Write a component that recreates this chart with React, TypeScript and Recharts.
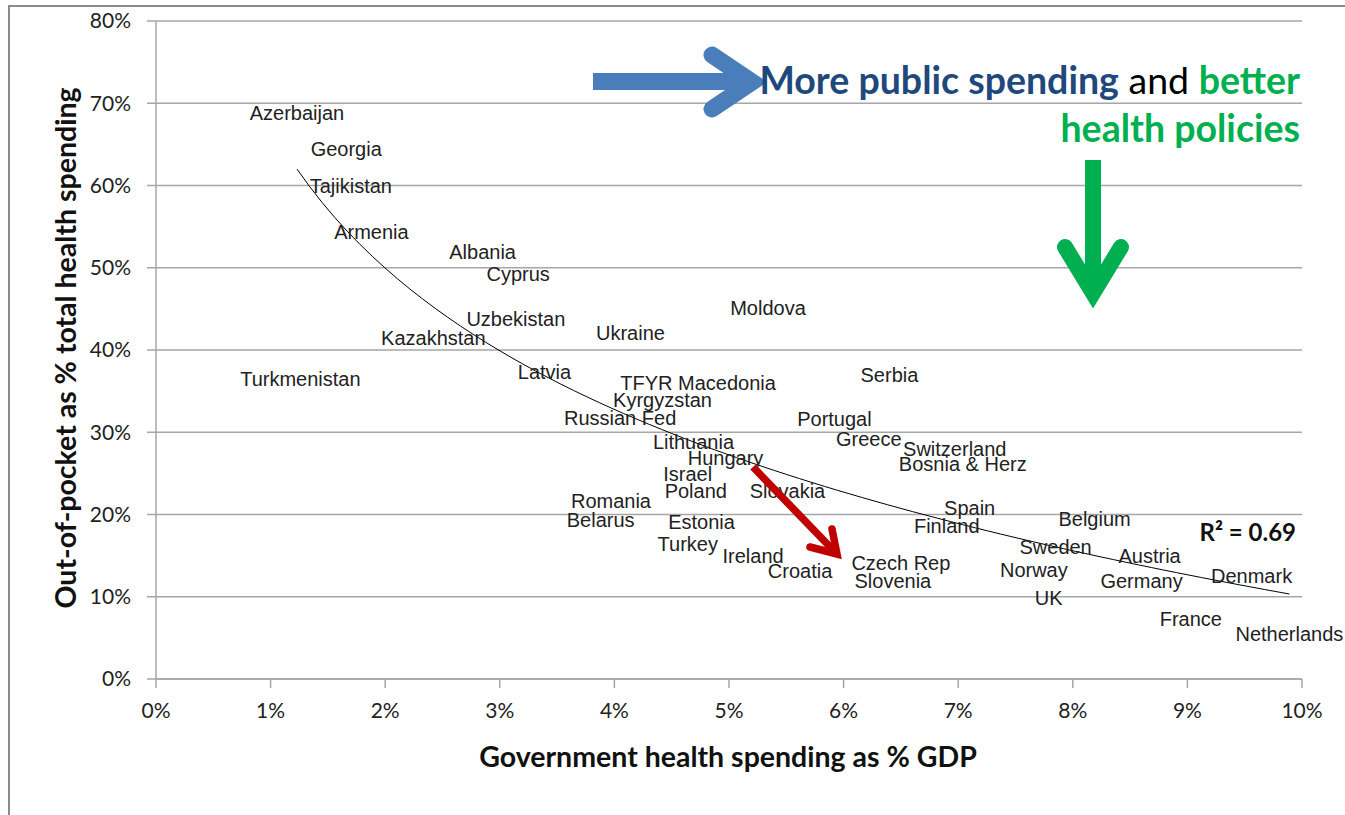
import React from 'react';
import { ComposedChart, Scatter, XAxis, YAxis, CartesianGrid } from 'recharts';

// Out-of-pocket share vs government health spending, European region
const countries = [
  'Azerbaijan', 'Georgia', 'Tajikistan', 'Armenia', 'Albania', 'Cyprus', 'Uzbekistan', 'Kazakhstan',
  'Ukraine', 'Moldova', 'Turkmenistan', 'Latvia', 'TFYR Macedonia', 'Serbia', 'Kyrgyzstan', 'Russian Fed',
  'Portugal', 'Greece', 'Lithuania', 'Switzerland', 'Hungary', 'Bosnia & Herz', 'Israel', 'Poland',
  'Slovakia', 'Romania', 'Belarus', 'Estonia', 'Spain', 'Finland', 'Belgium', 'Turkey',
  'Ireland', 'Croatia', 'Czech Rep', 'Slovenia', 'Sweden', 'Austria', 'Norway', 'Germany',
  'Denmark', 'UK', 'France', 'Netherlands',
];
const govSpending = [
  1.23, 1.66, 1.70, 1.88, 2.85, 3.16, 3.14, 2.42,
  4.14, 5.34, 1.26, 3.39, 4.73, 6.40, 4.42, 4.05,
  5.92, 6.22, 4.69, 6.97, 4.97, 7.04, 4.64, 4.71,
  5.51, 3.97, 3.88, 4.76, 7.10, 6.90, 8.19, 4.64,
  5.21, 5.62, 6.50, 6.43, 7.85, 8.67, 7.66, 8.60,
  9.56, 7.79, 9.03, 9.89,
];
const outOfPocket = [
  68.8, 64.4, 60.0, 54.4, 51.9, 49.3, 43.8, 41.4,
  42.1, 45.1, 36.5, 37.3, 36.0, 36.9, 33.9, 31.7,
  31.6, 29.2, 28.8, 28.0, 26.9, 26.1, 24.9, 22.8,
  22.8, 21.7, 19.3, 19.1, 20.8, 18.6, 19.5, 16.4,
  14.9, 13.1, 14.1, 11.9, 16.1, 15.0, 13.2, 11.9,
  12.5, 9.8, 7.3, 5.5,
];
const xTicks = [0, 1, 2, 3, 4, 5, 6, 7, 8, 9, 10];
const yTicks = [0, 10, 20, 30, 40, 50, 60, 70, 80];
const r2Label = 'R² = 0.69';

const points = countries.map((name, i) => ({ name, x: govSpending[i], y: outOfPocket[i] }));

// logarithmic trendline, least squares on ln(x) like Excel does
const lnX = govSpending.map((v) => Math.log(v));
const n = lnX.length;
const mx = lnX.reduce((a, b) => a + b, 0) / n;
const my = outOfPocket.reduce((a, b) => a + b, 0) / n;
let sxy = 0;
let sxx = 0;
lnX.forEach((lx, i) => {
  sxy += (lx - mx) * (outOfPocket[i] - my);
  sxx += (lx - mx) * (lx - mx);
});
const slope = sxy / sxx;
const intercept = my - slope * mx;
const xMin = Math.min(...govSpending);
const xMax = Math.max(...govSpending);
const trend = Array.from({ length: 80 }, (_, i) => {
  const x = xMin + ((xMax - xMin) * i) / 79;
  return { x, y: intercept + slope * Math.log(x) };
});

const labelFont = "'Liberation Sans', Arial, sans-serif";
const tickFont = "Lato, 'Open Sans', sans-serif";

const CountryLabel = (props: any) => {
  const { cx, cy, payload } = props;
  return (
    <text x={cx} y={cy} textAnchor="middle" dominantBaseline="central" fontSize={20} fontFamily={labelFont} fill="#222">
      {payload.name}
    </text>
  );
};

const App = () => (
  <div style={{ position: 'absolute', left: 0, top: 0, width: 1345, height: 815, background: '#fff', overflow: 'hidden' }}>
    <div style={{ position: 'absolute', left: 8, top: 5, width: 1400, height: 900, borderTop: '2px solid #8a8a8a', borderLeft: '2px solid #8a8a8a' }} />
    <div style={{ position: 'absolute', left: 0, top: 0 }}>
      <ComposedChart width={1345} height={815} margin={{ top: 21, right: 43, bottom: 76, left: 96 }} style={{ overflow: 'visible' }}>
        <CartesianGrid vertical={false} stroke="#a6a6a6" strokeWidth={1.5} />
        <XAxis
          type="number"
          dataKey="x"
          domain={[0, 10]}
          ticks={xTicks}
          interval={0}
          height={60}
          tickFormatter={(v) => `${v}%`}
          tick={{ fontSize: 21, fontFamily: tickFont, fill: '#222' }}
          tickSize={9}
          tickMargin={15}
          stroke="#a6a6a6"
          strokeWidth={1.5}
        />
        <YAxis
          type="number"
          dataKey="y"
          domain={[0, 80]}
          ticks={yTicks}
          interval={0}
          width={60}
          tickFormatter={(v) => `${v}%`}
          tick={{ fontSize: 21, fontFamily: tickFont, fill: '#222' }}
          tickSize={9}
          tickMargin={16}
          stroke="#a6a6a6"
          strokeWidth={1.5}
        />
        <Scatter data={trend} line={{ stroke: '#000', strokeWidth: 1 }} shape={() => null} isAnimationActive={false} />
        <Scatter data={points} shape={CountryLabel} isAnimationActive={false} />
      </ComposedChart>
    </div>
    <svg width={1345} height={815} style={{ position: 'absolute', left: 0, top: 0, pointerEvents: 'none' }}>
      <text
        transform="translate(65,348) rotate(-90)"
        textAnchor="middle"
        dominantBaseline="central"
        fontFamily={tickFont}
        fontWeight="bold"
        fontSize={28.5}
        fill="#111"
      >
        Out-of-pocket as % total health spending
      </text>
      <text x={728} y={756} textAnchor="middle" dominantBaseline="central" fontFamily={tickFont} fontWeight="bold" fontSize={28.5} fill="#111">
        Government health spending as % GDP
      </text>
      <text x={1296} y={541} textAnchor="end" fontFamily={tickFont} fontWeight="bold" fontSize={24} fill="#111">
        {r2Label}
      </text>

      {/* blue arrow */}
      <rect x={593} y={73} width={155} height={17} fill="#4a7ebb" />
      <polyline points="712,55 752,82 712,109" fill="none" stroke="#4a7ebb" strokeWidth={17} strokeLinecap="round" strokeLinejoin="miter" />

      {/* green arrow */}
      <rect x={1085} y={160} width={16} height={135} fill="#00b050" />
      <polyline points="1065,247 1093,293 1121,247" fill="none" stroke="#00b050" strokeWidth={16} strokeLinecap="round" strokeLinejoin="miter" />

      {/* red arrow */}
      <line x1={753} y1={467} x2={834} y2={551} stroke="#c00000" strokeWidth={7.5} />
      <polyline points="832,529 837,554 810,547" fill="none" stroke="#c00000" strokeWidth={7.5} strokeLinecap="round" strokeLinejoin="miter" />

      <text x={1300} y={94} textAnchor="end" fontFamily={tickFont} fontSize={37.5}>
        <tspan fontWeight="bold" fill="#1f497d">More public spending</tspan>
        <tspan fill="#000"> and </tspan>
        <tspan fontWeight="bold" fill="#00b050">better</tspan>
      </text>
      <text x={1300} y={142} textAnchor="end" fontFamily={tickFont} fontSize={37.5} fontWeight="bold" fill="#00b050">
        health policies
      </text>
    </svg>
  </div>
);

export default App;
